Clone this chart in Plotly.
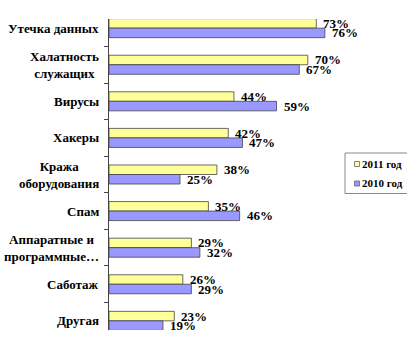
import plotly.graph_objects as go

# Threat categories (top to bottom) and shares of respondents, %
categories = [
    "Утечка данных",
    "Халатность<br>служащих",
    "Вирусы",
    "Хакеры",
    "Кража<br>оборудования",
    "Спам",
    "Аппаратные и<br>программные…",
    "Саботаж",
    "Другая",
]
values_2011 = [73, 70, 44, 42, 38, 35, 29, 26, 23]
values_2010 = [76, 67, 59, 47, 25, 46, 32, 29, 19]
series_names = ["2011 год", "2010 год"]
colors = ["#FFFF99", "#9999FF"]

W, H = 418, 348
ML, MR, MT, MB = 109, 25, 19, 18
PW, PH = W - ML - MR, H - MT - MB

def px_x(px):
    return (px - ML) / PW

def px_y(py):
    return (H - MB - py) / PH

serif = "Liberation Serif"
ids = list(range(len(categories)))

fig = go.Figure()
for name, vals, col in zip(series_names, [values_2011, values_2010], colors):
    fig.add_trace(go.Bar(
        y=ids, x=vals, orientation="h", name=name,
        marker=dict(color=col, line=dict(color="#444444", width=0.8)),
        showlegend=False,
    ))

annotations = []
# value labels to the right of each bar
for vals, shift in [(values_2011, 4.8), (values_2010, -4.8)]:
    for i, v in enumerate(vals):
        annotations.append(dict(
            x=v, y=i, xref="x", yref="y", text=f"<b>{v}%</b>", showarrow=False,
            xanchor="left", yanchor="middle", xshift=5, yshift=shift,
            font=dict(family=serif, size=13, color="#000000"),
        ))

# category labels, lines centred on each other
for i, c in enumerate(categories):
    annotations.append(dict(
        x=0, y=i, xref="paper", yref="y", text=f"<b>{c}</b>", showarrow=False,
        xanchor="right", yanchor="middle", align="center", xshift=-8,
        font=dict(family=serif, size=13, color="#000000"),
    ))

# legend
shapes = [dict(
    type="path", xref="paper", yref="paper",
    path=(f"M{px_x(407)},{px_y(153)} L{px_x(345)},{px_y(153)} "
          f"L{px_x(345)},{px_y(193.5)} L{px_x(407)},{px_y(193.5)}"),
    line=dict(color="#888888", width=1),
)]
for k, (name, col) in enumerate(zip(series_names, colors)):
    cy = 164 + k * 19.5
    shapes.append(dict(
        type="rect", xref="paper", yref="paper",
        x0=px_x(354.5), x1=px_x(359.5), y0=px_y(cy + 2.5), y1=px_y(cy - 2.5),
        fillcolor=col, line=dict(color="#555555", width=0.7),
    ))
    annotations.append(dict(
        x=px_x(360), y=px_y(cy), xref="paper", yref="paper", text=f"<b>{name}</b>",
        showarrow=False, xanchor="left", yanchor="middle",
        font=dict(family=serif, size=11, color="#000000"),
    ))

fig.update_layout(
    width=W, height=H,
    margin=dict(l=ML, r=MR, t=MT, b=MB),
    paper_bgcolor="white", plot_bgcolor="white",
    barmode="group", bargap=0.48, bargroupgap=0,
    xaxis=dict(range=[0, 100], visible=False, fixedrange=True),
    yaxis=dict(
        range=[8.25, -0.25], tickmode="array",
        tickvals=[i + 0.5 for i in range(-1, len(categories))],
        ticktext=[""] * (len(categories) + 1),
        ticks="outside", ticklen=4, tickcolor="#444444", tickwidth=1,
        showline=True, linecolor="#444444", linewidth=1,
        showgrid=False, zeroline=False, fixedrange=True,
    ),
    annotations=annotations, shapes=shapes,
    showlegend=False,
)

fig.write_html("out.html")
